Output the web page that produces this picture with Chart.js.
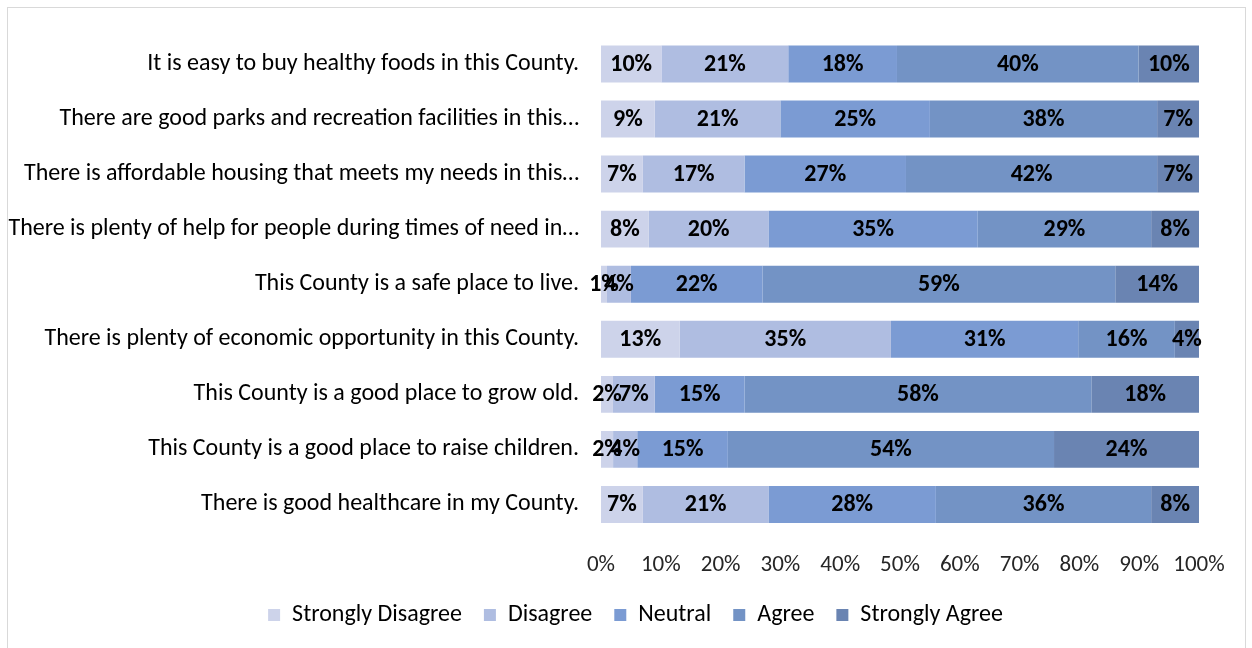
<!DOCTYPE html>
<html>
<head>
<meta charset="utf-8">
<script src="https://cdn.jsdelivr.net/npm/chart.js@4.4.0/dist/chart.umd.min.js"></script>
<style>
  html, body { margin: 0; padding: 0; background: #fff; overflow: hidden; }
  #frame {
    position: absolute; left: 7px; top: 7px; width: 1239px; height: 700px;
    border: 1px solid #d9d9d9; box-sizing: border-box;
  }
  #wrap { position: absolute; left: 0; top: 0; width: 1252px; height: 648px; }
</style>
</head>
<body>
<div id="frame"></div>
<div id="wrap"><canvas id="myChart" width="1252" height="648"></canvas></div>
<script>
const categories = [
  "It is easy to buy healthy foods in this County.",
  "There are good parks and recreation facilities in this…",
  "There is affordable housing that meets my needs in this…",
  "There is plenty of help for people during times of need in…",
  "This County is a safe place to live.",
  "There is plenty of economic opportunity in this County.",
  "This County is a good place to grow old.",
  "This County is a good place to raise children.",
  "There is good healthcare in my County.",
];

const seriesNames = ["Strongly Disagree", "Disagree", "Neutral", "Agree", "Strongly Agree"];

// percent printed on each segment
const stronglyDisagree = [10, 9, 7, 8, 1, 13, 2, 2, 7];
const disagree = [21, 21, 17, 20, 4, 35, 7, 4, 21];
const neutral = [18, 25, 27, 35, 22, 31, 15, 15, 28];
const agree = [40, 38, 42, 29, 59, 16, 58, 54, 36];
const stronglyAgree = [10, 7, 7, 8, 14, 4, 18, 24, 8];

const xTicks = [0, 10, 20, 30, 40, 50, 60, 70, 80, 90, 100];

const colors = ["#cdd3ea", "#afbde1", "#7b9bd3", "#7393c5", "#6a84b2"];
const FONT = "Carlito, Calibri, Lato, sans-serif";

const allSeries = [stronglyDisagree, disagree, neutral, agree, stronglyAgree];

// 100% stacked: each row scaled to its own total
const rowTotals = categories.map((c, i) =>
  allSeries.reduce((acc, s) => acc + s[i], 0)
);

const segmentLabels = {
  id: "segmentLabels",
  afterDatasetsDraw(chart) {
    const ctx = chart.ctx;
    ctx.save();
    ctx.font = "bold 24px " + FONT;
    ctx.fillStyle = "#000";
    ctx.textAlign = "center";
    ctx.textBaseline = "middle";
    chart.data.datasets.forEach((ds, di) => {
      const meta = chart.getDatasetMeta(di);
      meta.data.forEach((bar, i) => {
        const cx = (bar.x + bar.base) / 2;
        ctx.fillText(ds.raw[i] + "%", cx, bar.y + 1);
      });
    });
    ctx.restore();
  },
};

// the legend sits a bit right of the canvas centre in the original
const legendShift = {
  id: "legendShift",
  afterLayout(chart) {
    if (chart.legend) {
      chart.legend.left += 36;
      chart.legend.right += 36;
    }
  },
};

const data = {
  labels: categories,
  datasets: allSeries.map((s, k) => ({
    label: seriesNames[k],
    raw: s,
    data: s.map((v, i) => (v / rowTotals[i]) * 100),
    backgroundColor: colors[k],
    borderWidth: 0,
    barPercentage: 0.67,
    categoryPercentage: 1,
  })),
};

var ctx = document.getElementById("myChart").getContext("2d");
new Chart(ctx, {
  type: "bar",
  data: data,
  plugins: [segmentLabels, legendShift],
  options: {
    indexAxis: "y",
    responsive: false,
    animation: false,
    layout: {
      padding: { top: 35, right: 53, left: 0, bottom: 11 },
    },
    plugins: {
      tooltip: { enabled: false },
      legend: {
        position: "bottom",
        labels: {
          boxWidth: 12,
          boxHeight: 12,
          padding: 22,
          color: "#000",
          font: { family: FONT, size: 24 },
        },
      },
    },
    scales: {
      x: {
        stacked: true,
        min: 0,
        max: 100,
        afterBuildTicks: (scale) => {
          scale.ticks = xTicks.map((v) => ({ value: v }));
        },
        afterFit: (scale) => {
          scale.height = 49;
        },
        grid: { display: false, drawTicks: false },
        border: { display: false },
        ticks: {
          padding: 19,
          color: "#262626",
          font: { family: FONT, size: 23 },
          callback: (v) => v + "%",
        },
      },
      y: {
        stacked: true,
        afterFit: (scale) => {
          scale.width = 601;
        },
        grid: { display: false, drawTicks: false },
        border: { display: false },
        ticks: {
          padding: 22,
          color: "#000",
          font: { family: FONT, size: 24 },
        },
      },
    },
  },
});
</script>
</body>
</html>
